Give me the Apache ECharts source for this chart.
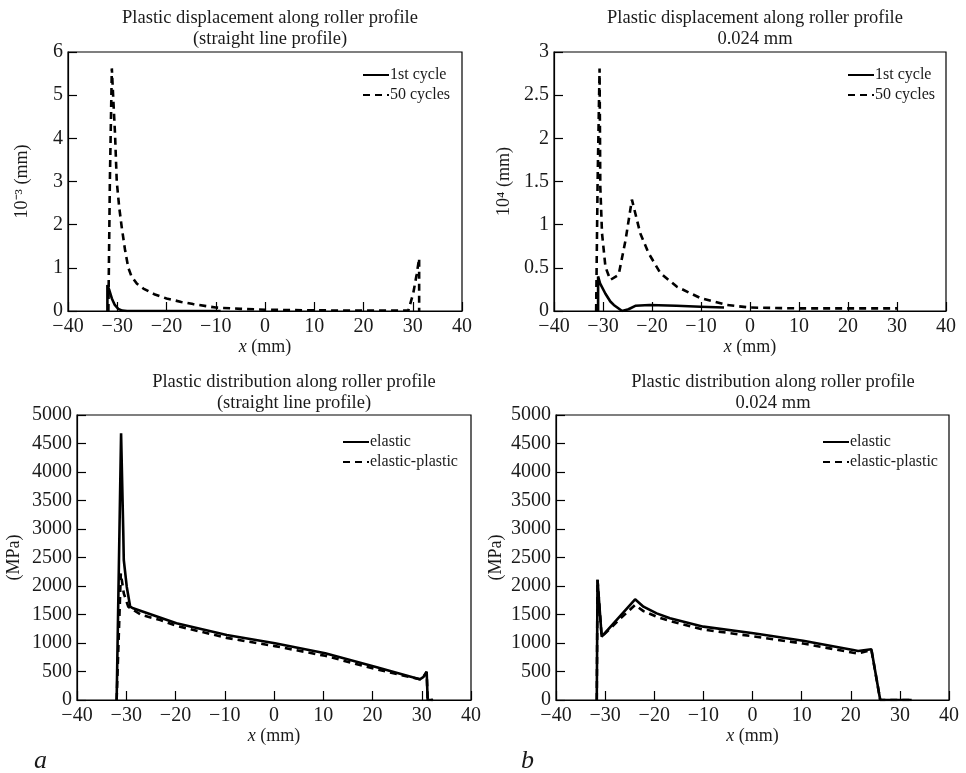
<!DOCTYPE html>
<html>
<head>
<meta charset="utf-8">
<script src="https://cdn.jsdelivr.net/npm/echarts@6/dist/echarts.min.js"></script>
<style>
html,body{margin:0;padding:0;background:#fff;}
#chart{width:966px;height:773px;}
</style>
</head>
<body>
<div id="chart"></div>
<script>
// ---- Data ----
var xTicks = [-40, -30, -20, -10, 0, 10, 20, 30, 40];

// Panel a, top: plastic displacement (10^-3 mm)
var dispA_cycle1_x = [-32.0, -32.0, -31.6, -31.1, -30.5, -29.8, -29.0, -28.0, -20, -9];
var dispA_cycle1_y = [0, 0.6, 0.48, 0.29, 0.14, 0.05, 0.01, 0, 0, 0];
var dispA_cycles50_x = [-31.8, -31.5, -31.1, -30.8, -30.45, -30.1, -29.6, -29.1, -28.4, -27.75, -27.1, -26, -24.7, -22.5, -20, -17, -14.6, -10, -5, 0, 10, 20, 29.1, 30.1, 30.8, 31.3, 31.3];
var dispA_cycles50_y = [0, 3.0, 5.62, 4.9, 4.1, 3.0, 2.4, 1.95, 1.4, 1.0, 0.8, 0.63, 0.52, 0.39, 0.29, 0.21, 0.16, 0.08, 0.05, 0.03, 0.015, 0.01, 0.01, 0.41, 0.85, 1.22, 0];

// Panel b, top: plastic displacement (10^4 mm)
var dispB_cycle1_x = [-31.0, -31.0, -30.6, -29.5, -28.5, -27.8, -26.1, -24.8, -23.4, -20.5, -15, -10.1, -5.3];
var dispB_cycle1_y = [0, 0.4, 0.32, 0.2, 0.11, 0.07, 0, 0.02, 0.06, 0.07, 0.06, 0.05, 0.04];
var dispB_cycles50_x = [-31.4, -31.1, -30.7, -30.55, -30.2, -29.5, -28.5, -26.8, -25.4, -24.1, -22.4, -20.7, -18.3, -14.9, -10.1, -4.7, 0, 10, 20, 30];
var dispB_cycles50_y = [0, 1.5, 2.81, 1.44, 0.9, 0.51, 0.36, 0.42, 0.82, 1.29, 0.9, 0.67, 0.44, 0.28, 0.15, 0.07, 0.04, 0.03, 0.03, 0.03];

// Panel a, bottom: stress distribution (MPa)
var stressA_elastic_x = [-31.95, -31.05, -30.6, -30.5, -29.9, -29.2, -28.6, -19.8, -9.6, 0.2, 10.4, 20.5, 29.6, 30.3, 31.0, 31.2, 32.3];
var stressA_elastic_y = [0, 4680, 2924, 2456, 1988, 1637, 1608, 1345, 1140, 994, 819, 585, 363, 400, 497, 0, 0];
var stressA_plastic_x = [-31.95, -31.1, -30.5, -29.6, -28.6, -26.9, -23.1, -19.8, -9.6, 0.2, 10.4, 20.5, 29.6, 30.3, 31.0, 31.2, 32.3];
var stressA_plastic_y = [0, 2222, 1871, 1637, 1580, 1491, 1404, 1300, 1090, 945, 775, 545, 363, 400, 490, 0, 0];

// Panel b, bottom: stress distribution (MPa)
var stressB_elastic_x = [-31.7, -31.55, -30.7, -23.9, -22.2, -19.5, -16.8, -10.0, 0.2, 10.3, 20.5, 21.5, 24.2, 26.0, 32.4];
var stressB_elastic_y = [0, 2110, 1111, 1766, 1637, 1520, 1433, 1287, 1170, 1041, 877, 860, 889, 0, 0];
var stressB_plastic_x = [-31.7, -31.55, -30.7, -27.0, -23.9, -22.2, -19.5, -16.8, -10.0, 0.2, 10.3, 20.5, 21.5, 24.2, 26.0, 32.4];
var stressB_plastic_y = [0, 2110, 1111, 1420, 1667, 1560, 1460, 1385, 1235, 1117, 990, 830, 815, 880, 0, 0];

// ---- Build chart ----
function zip(xs, ys) { return xs.map(function (x, i) { return [x, ys[i]]; }); }
var FONT = '"Liberation Serif", "Times New Roman", serif';
var TXT = '#1a1a1a';

var grids = [
  {left: 68, top: 52, width: 394, height: 259},
  {left: 554, top: 52, width: 392, height: 259},
  {left: 77, top: 415, width: 394, height: 285},
  {left: 556, top: 415, width: 393, height: 285}
].map(function (g) {
  return Object.assign({show: true, borderColor: '#000', borderWidth: 1.2, backgroundColor: 'transparent'}, g);
});

function minusFmt(v) { return String(v).replace('-', '\u2212'); }
function plainFmt(v) { return String(v); }

function xAxis(idx) {
  return {
    gridIndex: idx, type: 'value', min: -40, max: 40, interval: 10,
    name: '{i|x} (mm)', nameLocation: 'middle', nameGap: 26,
    nameTextStyle: {fontFamily: FONT, fontSize: 18, color: TXT,
      rich: {i: {fontFamily: FONT, fontSize: 18, fontStyle: 'italic', color: TXT}}},
    axisLine: {show: true, onZero: false, lineStyle: {color: '#000', width: 1.2}},
    axisTick: {show: true, inside: true, length: 9, lineStyle: {color: '#000', width: 1.2}},
    axisLabel: {fontFamily: FONT, fontSize: 20, color: TXT, margin: 6, formatter: minusFmt},
    splitLine: {show: false}
  };
}
function yAxis(idx, max, interval, name, gap) {
  return {
    gridIndex: idx, type: 'value', min: 0, max: max, interval: interval,
    name: name, nameLocation: 'middle', nameGap: gap, nameRotate: 90,
    nameTextStyle: {fontFamily: FONT, fontSize: 18, color: TXT},
    axisLine: {show: true, onZero: false, lineStyle: {color: '#000', width: 1.2}},
    axisTick: {show: true, inside: true, length: 9, lineStyle: {color: '#000', width: 1.2}},
    axisLabel: {fontFamily: FONT, fontSize: 20, color: TXT, margin: 5, formatter: plainFmt},
    splitLine: {show: false}
  };
}

function line(name, idx, data, dashed) {
  return {
    name: name, type: 'line', xAxisIndex: idx, yAxisIndex: idx, data: data,
    symbol: 'none', showSymbol: false, animation: false, z: dashed ? 2 : 3,
    lineStyle: {color: '#000', width: 2.6, type: dashed ? [7, 5] : 'solid'},
    itemStyle: {color: '#000'}
  };
}

function legend(names, left, top) {
  return {
    data: names, left: left, top: top, orient: 'vertical',
    itemWidth: 26, itemHeight: 12, itemGap: 4,
    itemStyle: {opacity: 0},
    textStyle: {fontFamily: FONT, fontSize: 16, color: TXT, padding: [0, 0, 0, -4]},
    selectedMode: false
  };
}

function title(text, cx, top) {
  return {
    text: text, left: cx, top: top, textAlign: 'center',
    textStyle: {fontFamily: FONT, fontSize: 18.5, fontWeight: 'normal', color: TXT, lineHeight: 21}
  };
}

var option = {
  backgroundColor: '#fff',
  animation: false,
  title: [
    title('Plastic displacement along roller profile\n(straight line profile)', 265, 3),
    title('Plastic displacement along roller profile\n0.024 mm', 750, 3),
    title('Plastic distribution along roller profile\n(straight line profile)', 289, 367),
    title('Plastic distribution along roller profile\n0.024 mm', 768, 367)
  ],
  legend: [
    legend(['1st cycle', '50 cycles'], 357, 62),
    legend(['1st cycle', '50 cycles'], 842, 62),
    legend(['elastic', 'elastic-plastic'], 337, 429),
    legend(['elastic', 'elastic-plastic'], 817, 429)
  ],
  grid: grids,
  xAxis: [xAxis(0), xAxis(1), xAxis(2), xAxis(3)],
  yAxis: [
    yAxis(0, 6, 1, '10\u207B\u00B3 (mm)', 37),
    yAxis(1, 3, 0.5, '10\u2074 (mm)', 41),
    yAxis(2, 5000, 500, '(MPa)', 54),
    yAxis(3, 5000, 500, '(MPa)', 51)
  ],
  series: [
    line('1st cycle', 0, zip(dispA_cycle1_x, dispA_cycle1_y), false),
    line('50 cycles', 0, zip(dispA_cycles50_x, dispA_cycles50_y), true),
    line('1st cycle', 1, zip(dispB_cycle1_x, dispB_cycle1_y), false),
    line('50 cycles', 1, zip(dispB_cycles50_x, dispB_cycles50_y), true),
    line('elastic', 2, zip(stressA_elastic_x, stressA_elastic_y), false),
    line('elastic-plastic', 2, zip(stressA_plastic_x, stressA_plastic_y), true),
    line('elastic', 3, zip(stressB_elastic_x, stressB_elastic_y), false),
    line('elastic-plastic', 3, zip(stressB_plastic_x, stressB_plastic_y), true)
  ],
  graphic: [
    {type: 'text', left: 34, top: 748, style: {text: 'a', font: 'italic 26px "Liberation Serif"', fill: TXT}},
    {type: 'text', left: 521, top: 748, style: {text: 'b', font: 'italic 26px "Liberation Serif"', fill: TXT}}
  ]
};

var chart = echarts.init(document.getElementById('chart'), null, {renderer: 'canvas'});
chart.setOption(option);
</script>
</body>
</html>
